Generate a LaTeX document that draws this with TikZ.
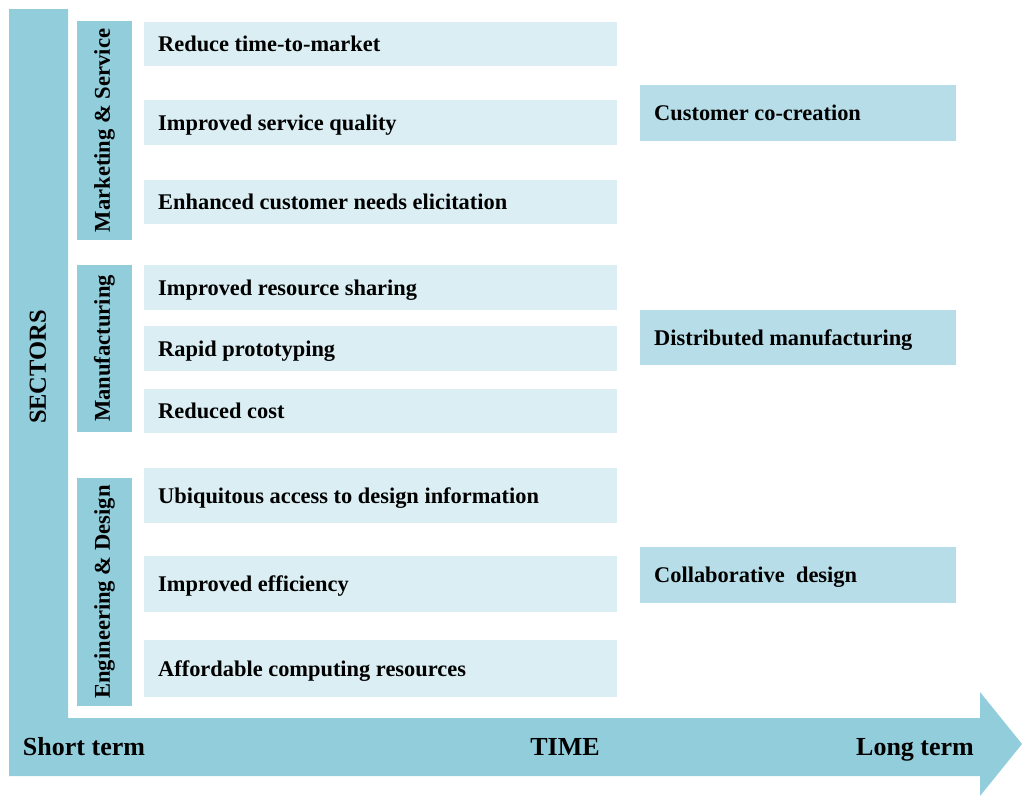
\documentclass[tikz,border=0pt]{standalone}
\usepackage{fontspec}
\setmainfont{Liberation Serif}
\definecolor{axisblue}{HTML}{92CDDC}
\definecolor{itemblue}{HTML}{DAEEF3}
\definecolor{resblue}{HTML}{B7DEE8}
\tikzset{
  itembox/.style={fill=itemblue, draw=none},
  resbox/.style={fill=resblue, draw=none},
  secbox/.style={fill=axisblue, draw=none},
  itemtext/.style={anchor=base west, inner sep=0pt, font=\fontsize{22.4}{26}\selectfont\bfseries},
  labtext/.style={inner sep=0pt, font=\fontsize{22.6}{26}\selectfont\bfseries},
  axistext/.style={inner sep=0pt, anchor=base, font=\fontsize{26}{30}\selectfont\bfseries},
}
\begin{document}
\begin{tikzpicture}[x=1pt,y=-1pt]
\useasboundingbox (0,0) rectangle (1022,796);
% axes
\fill[axisblue] (9,9) -- (68,9) -- (68,718) -- (980,718) -- (980,692) -- (1022,744) -- (980,796) -- (980,776) -- (9,776) -- cycle;
\node[labtext, rotate=90, font=\fontsize{24.5}{28}\selectfont\bfseries] (sectors) at (38,367) {SECTORS};
\node[axistext] (short) at (84,755) {Short term};
\node[axistext] (time) at (565,755) {TIME};
\node[axistext] (long) at (915,755) {Long term};
% sector boxes
\fill[secbox] (77,21) rectangle (132,240);
\node[labtext, rotate=90] (mkt) at (104.5,130.5) {Marketing \& Service};
\fill[secbox] (77,265) rectangle (132,432);
\node[labtext, rotate=90] (man) at (104.5,348.5) {Manufacturing};
\fill[secbox] (77,478) rectangle (132,706);
\node[labtext, rotate=90] (eng) at (104.5,592) {Engineering \& Design};
% items
\foreach \ya/\yb/\t/\n in {22/66/Reduce time-to-market/i1, 100/145/Improved service quality/i2, 180/224/Enhanced customer needs elicitation/i3, 265/310/Improved resource sharing/i4, 326/371/Rapid prototyping/i5, 389/433/Reduced cost/i6, 468/523/Ubiquitous access to design information/i7, 556/612/Improved efficiency/i8, 640/697/Affordable computing resources/i9}{
  \fill[itembox] (144,\ya) rectangle (617,\yb);
  \node[itemtext] (\n) at (158,{(\ya+\yb)/2+7.5}) {\t};
}
% results
\foreach \ya/\yb/\t/\n in {85/141/Customer co-creation/r1, 310/365/Distributed manufacturing/r2, 547/603/Collaborative\ \ design/r3}{
  \fill[resbox] (640,\ya) rectangle (956,\yb);
  \node[itemtext] (\n) at (654,{(\ya+\yb)/2+7.5}) {\t};
}
\end{tikzpicture}
\end{document}
